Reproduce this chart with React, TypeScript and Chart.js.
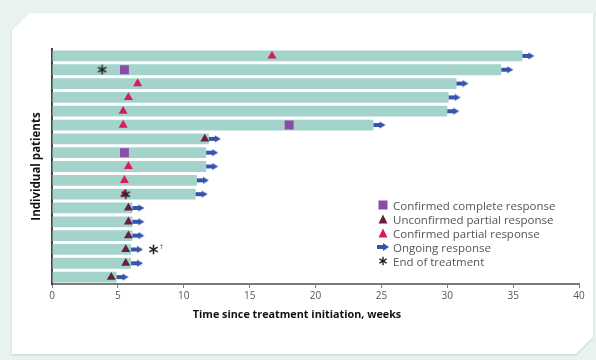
import React, { useEffect, useRef } from "react";
import { Chart, registerables } from "chart.js";

Chart.register(...registerables);

// ---------- data ----------
const patients = ["P1", "P2", "P3", "P4", "P5", "P6", "P7", "P8", "P9", "P10", "P11", "P12", "P13", "P14", "P15", "P16", "P17"];
const durations = [35.7, 34.1, 30.7, 30.1, 30.0, 24.4, 11.9, 11.7, 11.7, 11.0, 10.9, 6.1, 6.1, 6.1, 6.0, 6.0, 4.9];

const crPatients = [2, 6, 8];
const crWeeks = [5.5, 18.0, 5.5];

const cprPatients = [1, 3, 4, 5, 6, 9, 10, 11];
const cprWeeks = [16.7, 6.5, 5.8, 5.4, 5.4, 5.8, 5.5, 5.5];

const uprPatients = [7, 12, 13, 14, 15, 16, 17];
const uprWeeks = [11.6, 5.8, 5.8, 5.8, 5.6, 5.6, 4.5];

const eotPatients = [2, 11, 15];
const eotWeeks = [3.8, 5.6, 7.7];
const eotNotes = ["", "", "†"];

const xTicks = [0, 5, 10, 15, 20, 25, 30, 35, 40];
const xTitle = "Time since treatment initiation, weeks";
const yTitle = "Individual patients";

const legendLabels = [
  "Confirmed complete response",
  "Unconfirmed partial response",
  "Confirmed partial response",
  "Ongoing response",
  "End of treatment",
];

// ---------- styles ----------
const BAR = "#a3d3cb";
const CR = "#8b4ba8";
const UPR = "#6a1f42";
const CPR = "#d81b60";
const ARROW = "#3653ad";
const EOT = "#222222";
const FONT = "'Open Sans', 'DejaVu Sans', sans-serif";

function makeArrow(color: string) {
  const len = 12;
  const h = 8;
  const c = document.createElement("canvas");
  c.width = len * 2 + 2;
  c.height = h;
  const ctx = c.getContext("2d")!;
  const x0 = len + 1;
  ctx.fillStyle = color;
  ctx.fillRect(x0, h / 2 - 2, 7, 4);
  ctx.beginPath();
  ctx.moveTo(x0 + 6, 0.5);
  ctx.lineTo(x0 + len, h / 2);
  ctx.lineTo(x0 + 6, h - 0.5);
  ctx.closePath();
  ctx.fill();
  return c;
}

function makeAsterisk(color: string) {
  const s = 11;
  const c = document.createElement("canvas");
  c.width = s;
  c.height = s;
  const ctx = c.getContext("2d")!;
  ctx.strokeStyle = color;
  ctx.lineWidth = 1.6;
  const r = 4.8;
  const cx = s / 2;
  const cy = s / 2;
  for (let k = 0; k < 3; k++) {
    const a = Math.PI / 2 + (k * Math.PI) / 3;
    ctx.beginPath();
    ctx.moveTo(cx + r * Math.cos(a), cy + r * Math.sin(a));
    ctx.lineTo(cx - r * Math.cos(a), cy - r * Math.sin(a));
    ctx.stroke();
  }
  return c;
}

const pts = (ps: number[], ws: number[]) => ps.map((p, i) => ({ x: ws[i], y: patients[p - 1] }));

export default function App() {
  const ref = useRef<HTMLCanvasElement | null>(null);

  useEffect(() => {
    const arrow = makeArrow(ARROW);
    const asterisk = makeAsterisk(EOT);
    const daggerPlugin = {
      id: "dagger",
      afterDatasetsDraw(chart: any) {
        const { ctx, scales } = chart;
        ctx.save();
        ctx.fillStyle = "#666";
        ctx.font = `8px ${FONT}`;
        ctx.textBaseline = "middle";
        eotNotes.forEach((n, i) => {
          if (!n) return;
          const x = scales.x.getPixelForValue(eotWeeks[i]);
          const y = scales.y.getPixelForValue(eotPatients[i] - 1);
          ctx.fillText(n, x + 6, y - 3);
        });
        ctx.restore();
      },
    };
    const chart = new Chart(ref.current!, {
      type: "bar",
      data: {
        labels: patients,
        datasets: [
          {
            type: "bar",
            indexAxis: "y",
            data: durations,
            backgroundColor: BAR,
            borderWidth: 0,
            barPercentage: 0.78,
            categoryPercentage: 1,
            order: 10,
          } as any,
          {
            type: "scatter",
            data: pts(crPatients, crWeeks),
            pointStyle: "rect",
            pointRadius: 6.3,
            backgroundColor: CR,
            borderWidth: 0,
            order: 5,
          },
          {
            type: "scatter",
            data: pts(cprPatients, cprWeeks),
            pointStyle: "triangle",
            pointRadius: 5.2,
            backgroundColor: CPR,
            borderWidth: 0,
            order: 5,
          },
          {
            type: "scatter",
            data: pts(uprPatients, uprWeeks),
            pointStyle: "triangle",
            pointRadius: 5.2,
            backgroundColor: UPR,
            borderWidth: 0,
            order: 5,
          },
          {
            type: "scatter",
            data: durations.map((d, i) => ({ x: d, y: patients[i] })),
            pointStyle: arrow,
            order: 4,
          },
          {
            type: "scatter",
            data: pts(eotPatients, eotWeeks),
            pointStyle: asterisk,
            order: 1,
          },
        ],
      },
      options: {
        animation: false,
        responsive: true,
        maintainAspectRatio: false,
        events: [],
        layout: { padding: { top: 49, right: 17, left: 0, bottom: 0 } },
        plugins: { legend: { display: false }, tooltip: { enabled: false } },
        scales: {
          x: {
            type: "linear",
            min: 0,
            max: 40,
            offset: false,
            afterBuildTicks: (s: any) => {
              s.ticks = xTicks.map((v) => ({ value: v }));
            },
            afterFit: (s: any) => {
              s.height = 76;
            },
            border: { display: true, color: "#7a7a7a", width: 2 },
            grid: { display: true, offset: false, drawOnChartArea: false, drawTicks: true, tickLength: 4, color: "#7a7a7a", lineWidth: 1 },
            ticks: { color: "#555", font: { family: FONT, size: 10 }, padding: 2, maxRotation: 0 },
            title: { display: false },
          },
          y: {
            type: "category",
            offset: true,
            afterFit: (s: any) => {
              s.width = 52;
            },
            border: { display: true, color: "#444", width: 2 },
            grid: { display: false },
            ticks: { display: false },
            title: {
              display: true,
              text: yTitle,
              color: "#111",
              font: { family: FONT, size: 11.5, weight: "bold" },
              padding: { top: 30, bottom: 0 },
            },
          },
        },
      },
      plugins: [daggerPlugin],
    } as any);
    return () => chart.destroy();
  }, []);

  const marker = (i: number) => {
    switch (i) {
      case 0:
        return <rect x={1.5} y={0.5} width={9} height={9} fill={CR} />;
      case 1:
        return <polygon points="6,0.5 10.5,9.5 1.5,9.5" fill={UPR} />;
      case 2:
        return <polygon points="6,0.5 10.5,9.5 1.5,9.5" fill={CPR} />;
      case 3:
        return (
          <g fill={ARROW}>
            <rect x={0} y={3} width={7} height={4} />
            <polygon points="6,1 12,5 6,9" />
          </g>
        );
      default:
        return (
          <g stroke={EOT} strokeWidth={1.4}>
            <line x1={6} y1={0.8} x2={6} y2={9.2} />
            <line x1={2.4} y1={2.9} x2={9.6} y2={7.1} />
            <line x1={9.6} y1={2.9} x2={2.4} y2={7.1} />
          </g>
        );
    }
  };

  return (
    <div style={{ position: "fixed", left: 0, top: 0, width: 596, height: 360, background: "#e8f3f1", overflow: "hidden" }}>
      <div style={{ position: "absolute", left: 12, top: 13, width: 581, height: 341, filter: "drop-shadow(0 1px 1px rgba(0,0,0,0.15))" }}>
        <div
          style={{
            width: "100%",
            height: "100%",
            background: "#ffffff",
            clipPath: "polygon(17px 0, 100% 0, 100% calc(100% - 17px), calc(100% - 17px) 100%, 0 100%, 0 17px)",
          }}
        />
      </div>
      <div style={{ position: "absolute", left: 0, top: 0, width: 596, height: 360 }}>
        <canvas ref={ref} />
      </div>
      <div
        style={{
          position: "absolute",
          left: 147,
          width: 300,
          top: 306,
          textAlign: "center",
          fontFamily: FONT,
          fontSize: 10.8,
          fontWeight: "bold",
          color: "#111",
          lineHeight: "16px",
          whiteSpace: "nowrap",
        }}
      >
        {xTitle}
      </div>
      <div style={{ position: "absolute", left: 377, top: 198, fontFamily: FONT, fontSize: 11.5, color: "#555" }}>
        {legendLabels.map((l, i) => (
          <div key={l} style={{ display: "flex", alignItems: "center", height: 14, whiteSpace: "nowrap" }}>
            <svg width={12} height={10} style={{ marginRight: 4 }}>
              {marker(i)}
            </svg>
            <span>{l}</span>
          </div>
        ))}
      </div>
    </div>
  );
}
